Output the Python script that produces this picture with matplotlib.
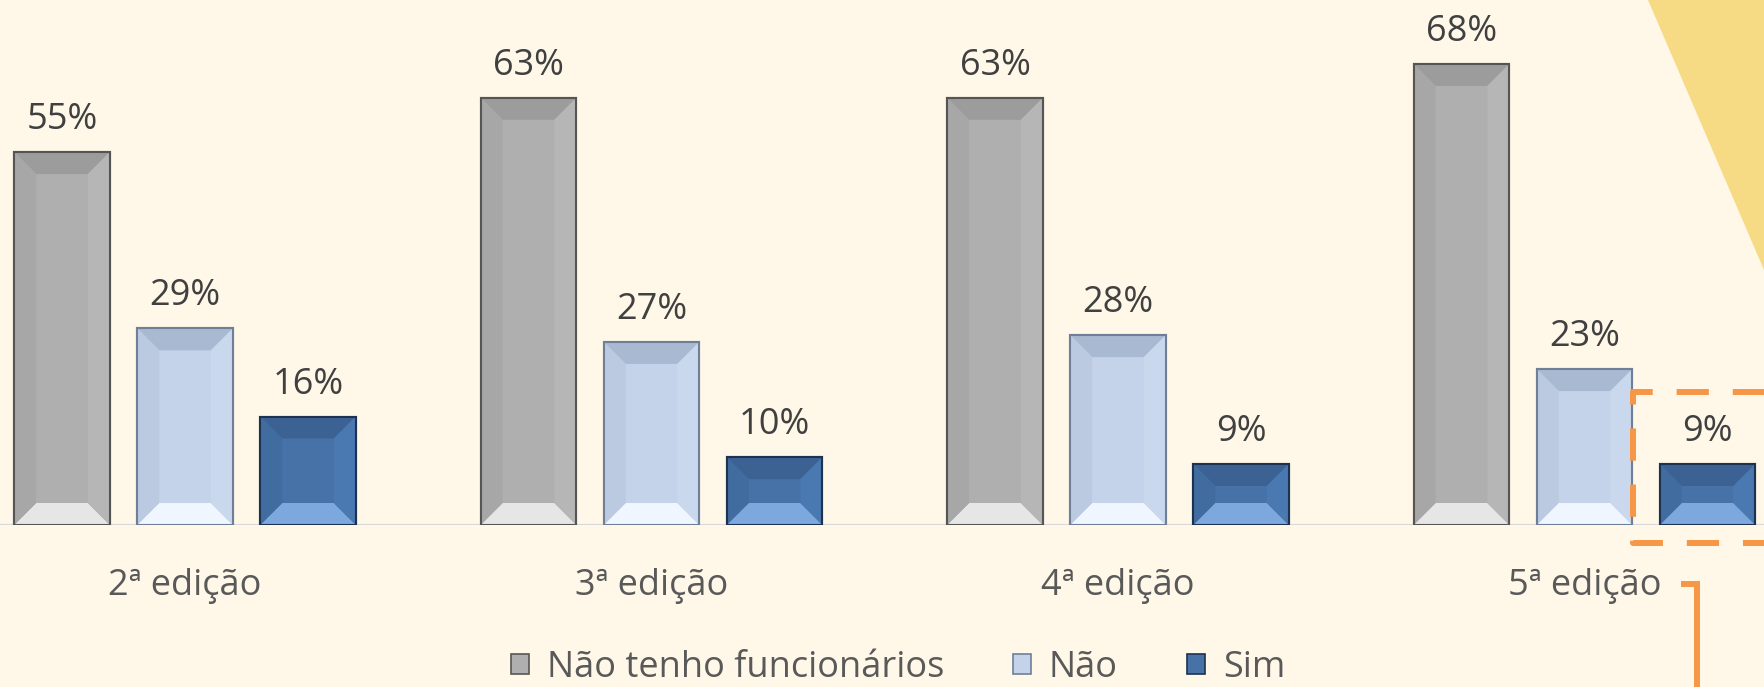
import numpy as np
import matplotlib
matplotlib.use('Agg')
import matplotlib.pyplot as plt
from matplotlib.patches import Polygon, Rectangle
from matplotlib.lines import Line2D

plt.rcParams['font.family'] = ['Open Sans', 'DejaVu Sans']

edicoes = ['2ª edição', '3ª edição', '4ª edição', '5ª edição']
series = ['Não tenho funcionários', 'Não', 'Sim']
nao_tenho = [55, 63, 63, 68]
nao = [29, 27, 28, 23]
sim = [16, 10, 9, 9]
valores = [nao_tenho, nao, sim]

# cores: base, topo, baixo, esquerda, direita, borda
cores = [
    ('#afafaf', '#9c9c9c', '#e6e6e6', '#a7a7a7', '#b6b6b6', '#555555'),
    ('#c4d3ea', '#a9b9d1', '#f0f6ff', '#bbcae1', '#cad8ee', '#6f7f98'),
    ('#4672a8', '#3c6293', '#7ca8de', '#416c9f', '#4a78b0', '#1c3250'),
]

W, H = 1764, 687
fig = plt.figure(figsize=(W / 100, H / 100), dpi=100)
fig.patch.set_facecolor('#fff8e8')

# triangulo amarelo no canto
fig.patches.append(Polygon([(1648 / W, 1), (1, 1), (1, 1 - 270 / H)],
                           closed=True, transform=fig.transFigure,
                           facecolor='#f6db84', edgecolor='none', zorder=0))

ax = fig.add_axes([0, 162 / H, 1, 525 / H])
ax.set_facecolor('none')
ax.set_xlim(-0.3966, 3.3848)
ax.set_ylim(0, 77.43)
for s in ax.spines.values():
    s.set_visible(False)
ax.set_yticks([])
ax.axhline(0, color='#d9d9d9', lw=1.6, zorder=1)

x = np.arange(len(edicoes))
passo = 0.2637
larg = 0.205
px_x = W / (3.3848 + 0.3966)
px_y = 525 / 77.43
d = 22  # profundidade do chanfro em px


def chanfro(ax, x0, x1, h, c, dx, dy, z=3):
    polys = [
        ([(x0, h), (x1, h), (x1 - dx, h - dy), (x0 + dx, h - dy)], c[1]),
        ([(x0, 0), (x1, 0), (x1 - dx, dy), (x0 + dx, dy)], c[2]),
        ([(x0, 0), (x0 + dx, dy), (x0 + dx, h - dy), (x0, h)], c[3]),
        ([(x1, 0), (x1 - dx, dy), (x1 - dx, h - dy), (x1, h)], c[4]),
    ]
    for pts, cor in polys:
        ax.add_patch(Polygon(pts, closed=True, facecolor=cor,
                             edgecolor='none', zorder=z))


for i, (vals, c) in enumerate(zip(valores, cores)):
    bars = ax.bar(x + (i - 1) * passo, vals, larg, color=c[0],
                  edgecolor=c[5], linewidth=1.5, zorder=2, label=series[i])
    for b in bars:
        x0 = b.get_x()
        x1 = x0 + b.get_width()
        h = b.get_height()
        dx = d / px_x
        dy = min(d / px_y, h / 2.3)
        chanfro(ax, x0, x1, h, c, dx, dy)
        ax.add_patch(Rectangle((x0, 0), x1 - x0, h, facecolor='none',
                               edgecolor=c[5], linewidth=1.5, zorder=4))
        ax.annotate(f'{h:.0f}%', (x0 + (x1 - x0) / 2, h), xytext=(0, 16.5),
                    textcoords='offset points', ha='center', va='baseline',
                    fontsize=26, color='#404040', zorder=5)

ax.set_xticks(x)
ax.set_xticklabels(edicoes, fontsize=26, color='#595959')
ax.tick_params(axis='x', length=0, pad=31)

handles = [Rectangle((0, 0), 1, 1, facecolor=c[0], edgecolor=c[5], linewidth=1.2)
           for c in cores]
leg = fig.legend(handles, series, loc='center', bbox_to_anchor=(0.509, 19 / H),
                 ncol=3, frameon=False, fontsize=26, handlelength=0.5,
                 handleheight=0.5, handletextpad=0.5, columnspacing=1.9,
                 labelcolor='#595959', borderpad=0.1)

# caixa tracejada laranja
box = Line2D([1800 / W, 1633 / W, 1633 / W, 1800 / W],
             [1 - 392 / H, 1 - 392 / H, 1 - 543 / H, 1 - 543 / H],
             transform=fig.transFigure, color='#f79646', lw=4.3,
             dashes=(5.4, 4.0), solid_capstyle='butt', dash_capstyle='butt')
fig.lines.append(box)
seta = Line2D([1684 / W, 1697 / W, 1697 / W], [1 - 584 / H, 1 - 584 / H, -0.05],
              transform=fig.transFigure, color='#f79646', lw=4.3,
              solid_joinstyle='miter')
fig.lines.append(seta)

fig.savefig('out.png', dpi=100, facecolor=fig.get_facecolor())
